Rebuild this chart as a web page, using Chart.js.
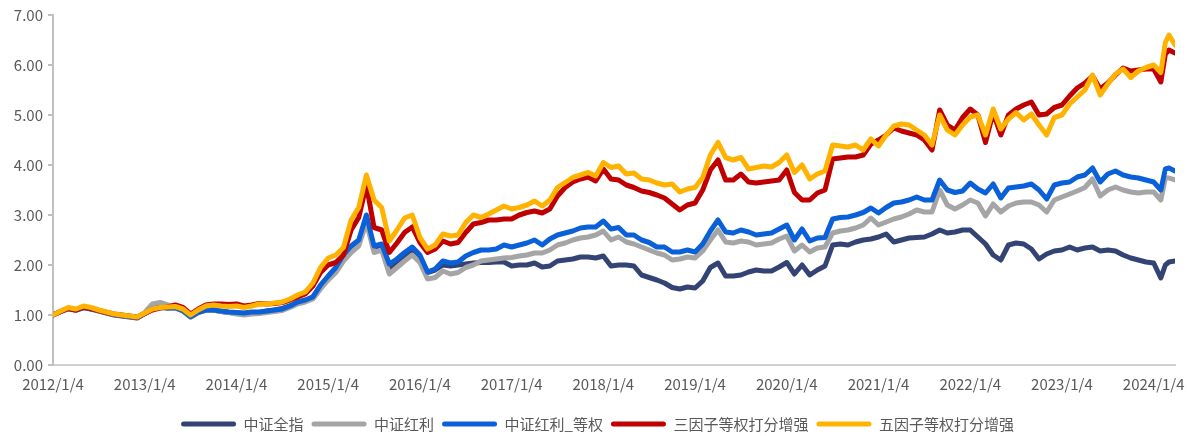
<!DOCTYPE html>
<html>
<head>
<meta charset="utf-8">
<script src="https://cdn.jsdelivr.net/npm/chart.js@4.4.1/dist/chart.umd.min.js"></script>
<style>
html,body{margin:0;padding:0;background:#fff;}
#wrap{width:1187px;height:436px;position:relative;}
</style>
</head>
<body>
<div id="wrap"><canvas id="c" width="1187" height="436"></canvas></div>
<script>
// ---- data ----
const dates = [
'2012-01-04','2012-02-04','2012-03-04','2012-04-04','2012-05-04','2012-06-04','2012-07-04','2012-08-04','2012-09-04','2012-10-04','2012-11-04','2012-12-04',
'2013-01-04','2013-02-04','2013-03-04','2013-04-04','2013-05-04','2013-06-04','2013-07-04','2013-08-04','2013-09-04','2013-10-04','2013-11-04','2013-12-04',
'2014-01-04','2014-02-04','2014-03-04','2014-04-04','2014-05-04','2014-06-04','2014-07-04','2014-08-04','2014-09-04','2014-10-04','2014-11-04','2014-12-04',
'2015-01-04','2015-02-04','2015-03-04','2015-04-04','2015-05-04','2015-06-04','2015-07-04','2015-08-04','2015-09-04','2015-10-04','2015-11-04','2015-12-04',
'2016-01-04','2016-02-04','2016-03-04','2016-04-04','2016-05-04','2016-06-04','2016-07-04','2016-08-04','2016-09-04','2016-10-04','2016-11-04','2016-12-04',
'2017-01-04','2017-02-04','2017-03-04','2017-04-04','2017-05-04','2017-06-04','2017-07-04','2017-08-04','2017-09-04','2017-10-04','2017-11-04','2017-12-04',
'2018-01-04','2018-02-04','2018-03-04','2018-04-04','2018-05-04','2018-06-04','2018-07-04','2018-08-04','2018-09-04','2018-10-04','2018-11-04','2018-12-04',
'2019-01-04','2019-02-04','2019-03-04','2019-04-04','2019-05-04','2019-06-04','2019-07-04','2019-08-04','2019-09-04','2019-10-04','2019-11-04','2019-12-04',
'2020-01-04','2020-02-04','2020-03-04','2020-04-04','2020-05-04','2020-06-04','2020-07-04','2020-08-04','2020-09-04','2020-10-04','2020-11-04','2020-12-04',
'2021-01-04','2021-02-04','2021-03-04','2021-04-04','2021-05-04','2021-06-04','2021-07-04','2021-08-04','2021-09-04','2021-10-04','2021-11-04','2021-12-04',
'2022-01-04','2022-02-04','2022-03-04','2022-04-04','2022-05-04','2022-06-04','2022-07-04','2022-08-04','2022-09-04','2022-10-04','2022-11-04','2022-12-04',
'2023-01-04','2023-02-04','2023-03-04','2023-04-04','2023-05-04','2023-06-04','2023-07-04','2023-08-04','2023-09-04','2023-10-04','2023-11-04','2023-12-04',
'2024-01-04','2024-02-02','2024-02-20','2024-03-04','2024-03-28'
];

const csiAll = [ // 中证全指
1.00,1.07,1.13,1.10,1.15,1.12,1.08,1.04,1.00,0.98,0.96,0.94,
1.03,1.12,1.16,1.14,1.14,1.08,0.96,1.05,1.10,1.10,1.07,1.05,
1.04,1.03,1.05,1.05,1.08,1.10,1.13,1.18,1.25,1.29,1.36,1.58,
1.75,1.92,2.15,2.32,2.45,2.95,2.30,2.36,1.90,2.02,2.15,2.28,
2.15,1.85,1.90,2.00,1.98,2.00,2.02,2.04,2.05,2.05,2.06,2.06,
1.98,2.00,2.00,2.04,1.96,1.98,2.08,2.10,2.12,2.16,2.16,2.14,
2.18,1.98,2.00,2.00,1.98,1.80,1.75,1.70,1.64,1.55,1.52,1.56,
1.54,1.68,1.95,2.04,1.78,1.78,1.80,1.86,1.90,1.88,1.88,1.96,
2.05,1.82,2.00,1.80,1.90,1.98,2.40,2.42,2.40,2.46,2.50,2.52,
2.56,2.62,2.46,2.50,2.54,2.55,2.56,2.62,2.70,2.64,2.66,2.70,
2.70,2.56,2.42,2.20,2.10,2.40,2.44,2.42,2.32,2.12,2.22,2.28,
2.30,2.36,2.30,2.34,2.36,2.28,2.30,2.28,2.20,2.14,2.10,2.06,
2.04,1.74,2.00,2.06,2.08
];
const csiDiv = [ // 中证红利
1.00,1.07,1.12,1.09,1.15,1.12,1.08,1.05,1.01,0.99,0.97,0.95,
1.05,1.22,1.25,1.20,1.15,1.10,0.97,1.06,1.10,1.10,1.07,1.05,
1.02,1.00,1.02,1.03,1.05,1.07,1.09,1.15,1.22,1.26,1.32,1.52,
1.70,1.85,2.08,2.25,2.38,2.85,2.25,2.30,1.82,1.95,2.08,2.20,
2.05,1.72,1.75,1.88,1.82,1.85,1.95,2.00,2.08,2.10,2.12,2.14,
2.15,2.18,2.20,2.24,2.24,2.30,2.40,2.44,2.50,2.54,2.56,2.60,
2.68,2.50,2.56,2.46,2.42,2.36,2.30,2.24,2.20,2.10,2.12,2.16,
2.14,2.28,2.50,2.70,2.46,2.44,2.48,2.46,2.40,2.42,2.44,2.52,
2.58,2.28,2.40,2.26,2.34,2.36,2.64,2.68,2.70,2.74,2.80,2.94,
2.80,2.86,2.92,2.96,3.02,3.10,3.06,3.06,3.50,3.20,3.12,3.20,
3.30,3.24,2.98,3.22,3.06,3.18,3.24,3.26,3.26,3.20,3.06,3.30,
3.36,3.42,3.48,3.55,3.72,3.38,3.50,3.56,3.50,3.46,3.44,3.46,
3.46,3.30,3.74,3.74,3.70
];
const csiDivEq = [ // 中证红利_等权
1.00,1.07,1.13,1.10,1.15,1.12,1.09,1.05,1.01,0.99,0.97,0.95,
1.03,1.12,1.15,1.14,1.15,1.10,0.97,1.06,1.10,1.10,1.08,1.06,
1.05,1.04,1.06,1.06,1.08,1.10,1.12,1.18,1.26,1.30,1.36,1.60,
1.78,1.95,2.20,2.38,2.50,3.00,2.38,2.42,2.02,2.12,2.25,2.36,
2.20,1.86,1.92,2.08,2.04,2.06,2.18,2.25,2.30,2.30,2.32,2.40,
2.36,2.40,2.44,2.50,2.40,2.52,2.60,2.64,2.68,2.74,2.76,2.76,
2.88,2.72,2.75,2.60,2.60,2.50,2.45,2.36,2.36,2.26,2.26,2.30,
2.26,2.42,2.68,2.90,2.66,2.64,2.70,2.66,2.60,2.62,2.64,2.72,
2.80,2.50,2.72,2.48,2.54,2.55,2.92,2.95,2.96,3.00,3.05,3.14,
3.04,3.15,3.24,3.26,3.30,3.36,3.30,3.30,3.70,3.50,3.45,3.48,
3.64,3.52,3.44,3.62,3.34,3.54,3.56,3.58,3.62,3.50,3.32,3.60,
3.64,3.66,3.76,3.80,3.94,3.66,3.82,3.88,3.80,3.76,3.74,3.70,
3.66,3.50,3.92,3.94,3.88
];
const threeFactor = [ // 三因子等权打分增强
1.00,1.07,1.13,1.10,1.16,1.13,1.09,1.05,1.02,1.00,0.98,0.96,
1.03,1.10,1.14,1.16,1.20,1.15,1.02,1.12,1.20,1.22,1.22,1.21,
1.22,1.18,1.20,1.23,1.22,1.23,1.25,1.30,1.36,1.42,1.58,1.85,
2.00,2.05,2.20,2.70,2.95,3.60,2.75,2.70,2.25,2.44,2.65,2.76,
2.45,2.25,2.32,2.48,2.42,2.45,2.65,2.82,2.85,2.90,2.90,2.92,
2.92,3.00,3.05,3.08,3.04,3.12,3.38,3.55,3.66,3.72,3.76,3.68,
3.92,3.72,3.70,3.60,3.55,3.48,3.45,3.40,3.34,3.22,3.10,3.20,
3.24,3.50,3.90,4.10,3.70,3.70,3.82,3.66,3.64,3.66,3.68,3.70,
3.90,3.45,3.30,3.30,3.44,3.50,4.12,4.14,4.16,4.16,4.20,4.42,
4.50,4.60,4.74,4.68,4.64,4.60,4.50,4.30,5.10,4.80,4.70,4.95,
5.12,5.00,4.45,5.05,4.60,5.00,5.12,5.20,5.26,5.00,5.02,5.15,
5.20,5.38,5.54,5.64,5.78,5.52,5.64,5.80,5.94,5.88,5.90,5.92,
5.92,5.66,6.22,6.30,6.24
];
const fiveFactor = [ // 五因子等权打分增强
1.00,1.08,1.15,1.12,1.18,1.15,1.10,1.06,1.02,1.00,0.98,0.96,
1.04,1.12,1.15,1.16,1.17,1.12,1.00,1.10,1.18,1.20,1.18,1.17,
1.18,1.15,1.18,1.22,1.22,1.24,1.26,1.32,1.40,1.46,1.64,1.95,
2.14,2.20,2.35,2.90,3.15,3.80,3.30,3.15,2.48,2.70,2.94,3.00,
2.55,2.32,2.40,2.62,2.58,2.60,2.85,3.00,2.95,3.02,3.10,3.18,
3.12,3.15,3.20,3.28,3.18,3.30,3.55,3.65,3.75,3.80,3.85,3.78,
4.05,3.95,3.98,3.82,3.84,3.72,3.70,3.64,3.60,3.62,3.46,3.52,
3.55,3.75,4.20,4.45,4.15,4.10,4.15,3.92,3.95,3.98,3.96,4.05,
4.20,3.85,4.00,3.72,3.82,3.88,4.40,4.38,4.36,4.40,4.30,4.52,
4.38,4.60,4.78,4.82,4.80,4.70,4.60,4.40,5.00,4.70,4.60,4.80,
4.96,5.00,4.60,5.12,4.72,4.92,5.05,4.90,5.02,4.80,4.60,4.95,
5.00,5.22,5.36,5.50,5.80,5.40,5.62,5.82,5.92,5.75,5.88,5.95,
6.00,5.85,6.45,6.60,6.40
];

const seriesNames = ['中证全指','中证红利','中证红利_等权','三因子等权打分增强','五因子等权打分增强'];
const seriesValues = [csiAll, csiDiv, csiDivEq, threeFactor, fiveFactor];
const seriesColors = ['#334474','#A5A5A5','#0A60D8','#C00000','#FFB300'];
const yTicks = [0,1,2,3,4,5,6,7];
const xTickYears = [2012,2013,2014,2015,2016,2017,2018,2019,2020,2021,2022,2023,2024];

// date string -> fractional year with 2012/1/4 at 2012.0
function toT(s){
  const p = s.split('-').map(Number);
  return p[0] + (p[1]-1)/12 + (p[2]-4)/365;
}
const tVals = dates.map(toT);

const FONT = '"Noto Sans CJK SC", "Noto Sans", sans-serif';
const TXT = '#595959';
const LEG_PAD = 8;

const datasets = seriesNames.map((name,i)=>({
  label: name,
  data: seriesValues[i].map((v,j)=>({x:tVals[j], y:v})),
  borderColor: seriesColors[i],
  backgroundColor: seriesColors[i],
  borderWidth: 5,
  pointRadius: 0,
  tension: 0,
  borderJoinStyle: 'round',
  borderCapStyle: 'round',
  order: seriesNames.length - i
}));

const legendShift = {
  id: 'legendShift',
  afterLayout(chart){
    const l = chart.legend;
    if (l) { l.left += 10; l.right += 10; }
  }
};

new Chart(document.getElementById('c'), {
  type: 'line',
  data: { datasets },
  plugins: [legendShift],
  options: {
    responsive: false,
    animation: false,
    layout: { autoPadding: false, padding: { left: 0, right: 12, top: 15, bottom: -5.5 } },
    plugins: {
      tooltip: { enabled: false },
      legend: {
        position: 'bottom',
        labels: {
          boxWidth: 55,
          boxHeight: 5,
          padding: LEG_PAD,
          color: TXT,
          font: { family: FONT, size: 15 },
          sort: (a,b)=>a.datasetIndex-b.datasetIndex,
          generateLabels: (chart)=>{
            const items = Chart.defaults.plugins.legend.labels.generateLabels(chart);
            return items.map(it=>{
              const c = seriesColors[it.datasetIndex];
              it.fillStyle = c; it.strokeStyle = c; it.lineWidth = 0;
              it.borderRadius = 2.5;
              return it;
            });
          },
          useBorderRadius: true,
          borderRadius: 2.5
        }
      }
    },
    scales: {
      x: {
        type: 'linear',
        min: tVals[0],
        max: tVals[tVals.length-1],
        afterBuildTicks: (s)=>{ s.ticks = xTickYears.map(v=>({value:v})); },
        afterFit: (s)=>{ s.height = 51.5 - LEG_PAD; s.paddingLeft = 0; s.paddingRight = 0; },
        ticks: {
          autoSkip: false, maxRotation: 0, padding: 0,
          color: TXT, font: { family: FONT, size: 15 },
          callback: (v)=> v + '/1/4'
        },
        grid: { display: true, drawOnChartArea: false, drawTicks: true, tickLength: 10, tickColor: 'rgba(0,0,0,0)', color: 'rgba(0,0,0,0)' },
        border: { display: true, color: '#D0D0D0', width: 2 }
      },
      y: {
        min: 0, max: 7,
        afterBuildTicks: (s)=>{ s.ticks = yTicks.map(v=>({value:v})); },
        afterFit: (s)=>{ s.width = 53; s.paddingTop = 0; s.paddingBottom = 0; },
        ticks: {
          padding: 5, color: TXT, font: { family: FONT, size: 15 },
          callback: (v)=> Number(v).toFixed(2)
        },
        grid: { display: true, drawOnChartArea: false, drawTicks: true, tickLength: 5, color: '#C0C0C0', lineWidth: 2 },
        border: { display: true, color: '#C0C0C0', width: 2 }
      }
    }
  }
});
</script>
</body>
</html>
